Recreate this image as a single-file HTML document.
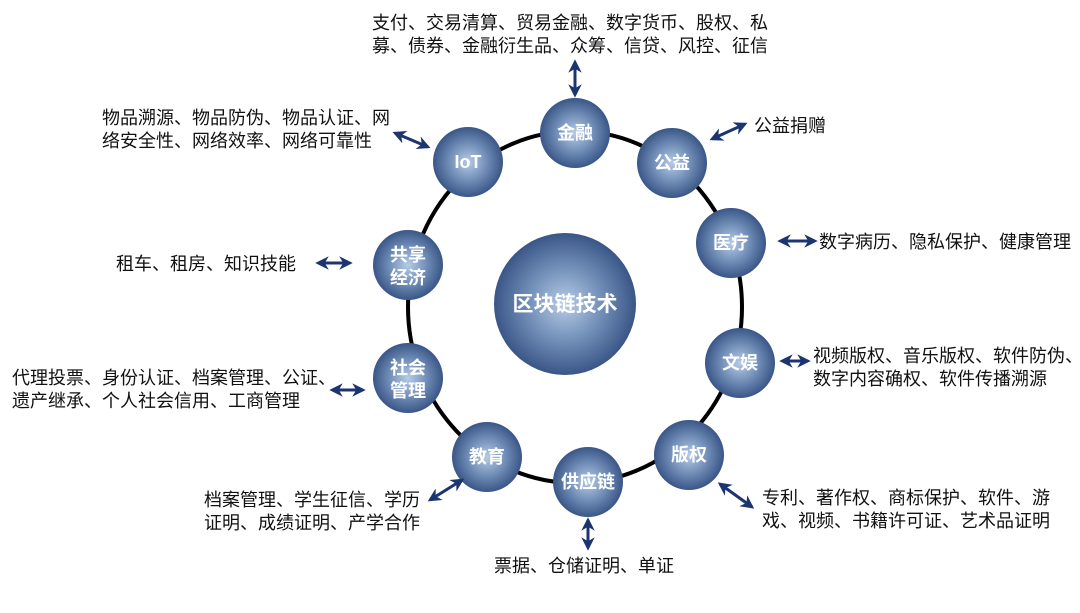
<!DOCTYPE html>
<html><head><meta charset="utf-8"><style>
html,body{margin:0;padding:0;background:#fff;}
svg text{font-family:"Liberation Sans","Noto Sans CJK SC",sans-serif;}
.t{font-size:18px;fill:#111;}
.n{font-size:18px;fill:#fff;font-weight:bold;text-anchor:middle;}
</style></head><body>
<svg width="1080" height="608" viewBox="0 0 1080 608" xmlns="http://www.w3.org/2000/svg">
<defs>
<radialGradient id="g" cx="50%" cy="50%" r="50%">
<stop offset="0" stop-color="#b6cce6"/><stop offset="0.55" stop-color="#6f8cb6"/><stop offset="1" stop-color="#3a5687"/>
</radialGradient>
<marker id="a" viewBox="0 0 10 10" refX="8" refY="5" markerWidth="4.5" markerHeight="4.5" orient="auto-start-reverse">
<path d="M0,0 L10,5 L0,10 L3,5 Z" fill="#1c3570"/></marker>
</defs>
<ellipse cx="575" cy="307" rx="167" ry="176" fill="none" stroke="#000" stroke-width="4"/>
<circle cx="565" cy="304" r="71" fill="url(#g)"/>
<text x="565" y="311" class="n" style="font-size:21px">区块链技术</text>
<g>
<circle cx="575" cy="133" r="35" fill="url(#g)"/><text x="575" y="139" class="n">金融</text>
<circle cx="672" cy="163" r="35" fill="url(#g)"/><text x="672" y="169" class="n">公益</text>
<circle cx="731" cy="243" r="35" fill="url(#g)"/><text x="731" y="249" class="n">医疗</text>
<circle cx="740" cy="363" r="35" fill="url(#g)"/><text x="740" y="369" class="n">文娱</text>
<circle cx="689" cy="455" r="35" fill="url(#g)"/><text x="689" y="461" class="n">版权</text>
<circle cx="588" cy="482" r="35" fill="url(#g)"/><text x="588" y="488" class="n">供应链</text>
<circle cx="487" cy="457" r="35" fill="url(#g)"/><text x="487" y="463" class="n">教育</text>
<circle cx="408" cy="378" r="35" fill="url(#g)"/><text x="408" y="374" class="n">社会</text><text x="408" y="397" class="n">管理</text>
<circle cx="408" cy="265" r="35" fill="url(#g)"/><text x="408" y="261" class="n">共享</text><text x="408" y="284" class="n">经济</text>
<circle cx="468" cy="162" r="35" fill="url(#g)"/><text x="468" y="168" class="n">IoT</text>
</g>
<g stroke="#1c3570" stroke-width="3" marker-start="url(#a)" marker-end="url(#a)">
<line x1="575" y1="62" x2="575" y2="95"/>
<line x1="712" y1="139" x2="745" y2="124"/>
<line x1="780" y1="241" x2="815" y2="241"/>
<line x1="782" y1="361" x2="808" y2="361"/>
<line x1="720" y1="484" x2="752" y2="507"/>
<line x1="588" y1="520" x2="588" y2="548"/>
<line x1="430" y1="500" x2="462" y2="480"/>
<line x1="332" y1="390" x2="363" y2="390"/>
<line x1="318" y1="263" x2="350" y2="263"/>
<line x1="395" y1="133" x2="428" y2="147"/>
</g>
<text class="t" x="372" y="29">支付、交易清算、贸易金融、数字货币、股权、私</text>
<text class="t" x="372" y="52">募、债券、金融衍生品、众筹、信贷、风控、征信</text>
<text class="t" x="754" y="132">公益捐赠</text>
<text class="t" x="819" y="248">数字病历、隐私保护、健康管理</text>
<text class="t" x="813" y="362">视频版权、音乐版权、软件防伪、</text>
<text class="t" x="813" y="385">数字内容确权、软件传播溯源</text>
<text class="t" x="762" y="504">专利、著作权、商标保护、软件、游</text>
<text class="t" x="762" y="527">戏、视频、书籍许可证、艺术品证明</text>
<text class="t" x="494" y="572">票据、仓储证明、单证</text>
<text class="t" x="204" y="506">档案管理、学生征信、学历</text>
<text class="t" x="204" y="529">证明、成绩证明、产学合作</text>
<text class="t" x="12" y="384">代理投票、身份认证、档案管理、公证、</text>
<text class="t" x="12" y="407">遗产继承、个人社会信用、工商管理</text>
<text class="t" x="116" y="270">租车、租房、知识技能</text>
<text class="t" x="102" y="124">物品溯源、物品防伪、物品认证、网</text>
<text class="t" x="102" y="147">络安全性、网络效率、网络可靠性</text>
</svg>
</body></html>
